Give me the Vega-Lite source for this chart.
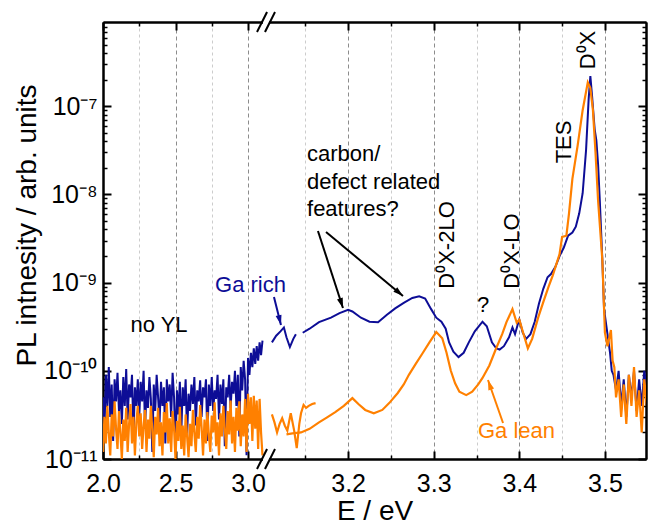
{
"$schema":"https://vega.github.io/schema/vega-lite/v6.json",
"width":543,"height":437,"autosize":"none",
"padding":{"left":103,"top":22,"right":5,"bottom":65},
"background":"white",
"config":{"font":"Liberation Sans","view":{"stroke":null},
 "axis":{"domainColor":"black","domainWidth":2,"tickColor":"black","labelColor":"black","titleColor":"black","labelFont":"Liberation Sans","titleFont":"Liberation Sans","labelFontSize":25,"titleFontSize":28,"titleFontWeight":"normal","labelFlush":false,"labelOverlap":false,"grid":false}},
"datasets":{
"rich":[
{"E":2.00,"I":5e-11,"seg":1},{"E":2.01,"I":2.2e-11,"seg":1},{"E":2.02,"I":9e-11,"seg":1},{"E":2.03,"I":4e-11,"seg":1},{"E":2.04,"I":1.1e-10,"seg":1},{"E":2.05,"I":3e-11,"seg":1},{"E":2.06,"I":7e-11,"seg":1},{"E":2.07,"I":1.6e-11,"seg":1},{"E":2.08,"I":8e-11,"seg":1},{"E":2.09,"I":4.5e-11,"seg":1},
{"E":2.10,"I":9.5e-11,"seg":1},{"E":2.11,"I":3.5e-11,"seg":1},{"E":2.12,"I":6e-11,"seg":1},{"E":2.13,"I":2.5e-11,"seg":1},{"E":2.14,"I":8.5e-11,"seg":1},{"E":2.15,"I":4e-11,"seg":1},{"E":2.16,"I":1.05e-10,"seg":1},{"E":2.17,"I":2.8e-11,"seg":1},{"E":2.18,"I":7e-11,"seg":1},{"E":2.19,"I":5e-11,"seg":1},
{"E":2.20,"I":9e-11,"seg":1},{"E":2.21,"I":1.8e-11,"seg":1},{"E":2.22,"I":6.5e-11,"seg":1},{"E":2.23,"I":4e-11,"seg":1},{"E":2.24,"I":8e-11,"seg":1},{"E":2.25,"I":3e-11,"seg":1},{"E":2.26,"I":7.5e-11,"seg":1},{"E":2.27,"I":4.5e-11,"seg":1},{"E":2.28,"I":1e-10,"seg":1},{"E":2.29,"I":2.2e-11,"seg":1},
{"E":2.30,"I":6e-11,"seg":1},{"E":2.31,"I":3.8e-11,"seg":1},{"E":2.32,"I":8.5e-11,"seg":1},{"E":2.33,"I":4.8e-11,"seg":1},{"E":2.34,"I":1.2e-11,"seg":1},{"E":2.35,"I":7e-11,"seg":1},{"E":2.36,"I":3.5e-11,"seg":1},{"E":2.37,"I":9e-11,"seg":1},{"E":2.38,"I":5e-11,"seg":1},{"E":2.39,"I":2.6e-11,"seg":1},
{"E":2.40,"I":7.5e-11,"seg":1},{"E":2.41,"I":4e-11,"seg":1},{"E":2.42,"I":6.5e-11,"seg":1},{"E":2.43,"I":1.5e-11,"seg":1},{"E":2.44,"I":8e-11,"seg":1},{"E":2.45,"I":4.5e-11,"seg":1},{"E":2.46,"I":7e-11,"seg":1},{"E":2.47,"I":3e-11,"seg":1},{"E":2.48,"I":9.5e-11,"seg":1},{"E":2.49,"I":5e-11,"seg":1},
{"E":2.50,"I":1.3e-11,"seg":1},{"E":2.51,"I":6e-11,"seg":1},{"E":2.52,"I":3.2e-11,"seg":1},{"E":2.53,"I":7.5e-11,"seg":1},{"E":2.54,"I":2e-11,"seg":1},{"E":2.55,"I":6.5e-11,"seg":1},{"E":2.56,"I":4e-11,"seg":1},{"E":2.57,"I":8e-11,"seg":1},{"E":2.58,"I":1.8e-11,"seg":1},{"E":2.59,"I":5.5e-11,"seg":1},
{"E":2.60,"I":3.5e-11,"seg":1},{"E":2.61,"I":7e-11,"seg":1},{"E":2.62,"I":4.2e-11,"seg":1},{"E":2.63,"I":8.5e-11,"seg":1},{"E":2.64,"I":2.4e-11,"seg":1},{"E":2.65,"I":6e-11,"seg":1},{"E":2.66,"I":4.5e-11,"seg":1},{"E":2.67,"I":7.8e-11,"seg":1},{"E":2.68,"I":3e-11,"seg":1},{"E":2.69,"I":6.5e-11,"seg":1},
{"E":2.70,"I":5e-11,"seg":1},{"E":2.71,"I":8e-11,"seg":1},{"E":2.72,"I":1.6e-11,"seg":1},{"E":2.73,"I":7e-11,"seg":1},{"E":2.74,"I":4e-11,"seg":1},{"E":2.75,"I":8.5e-11,"seg":1},{"E":2.76,"I":3.5e-11,"seg":1},{"E":2.77,"I":6e-11,"seg":1},{"E":2.78,"I":4.8e-11,"seg":1},{"E":2.79,"I":9e-11,"seg":1},
{"E":2.80,"I":2.8e-11,"seg":1},{"E":2.81,"I":7e-11,"seg":1},{"E":2.82,"I":4.2e-11,"seg":1},{"E":2.83,"I":8e-11,"seg":1},{"E":2.84,"I":1.4e-11,"seg":1},{"E":2.85,"I":6.5e-11,"seg":1},{"E":2.86,"I":5e-11,"seg":1},{"E":2.87,"I":9e-11,"seg":1},{"E":2.88,"I":3.8e-11,"seg":1},{"E":2.89,"I":7.5e-11,"seg":1},
{"E":2.90,"I":5.5e-11,"seg":1},{"E":2.91,"I":1e-10,"seg":1},{"E":2.92,"I":4e-11,"seg":1},{"E":2.93,"I":9e-11,"seg":1},{"E":2.94,"I":1.8e-11,"seg":1},{"E":2.95,"I":1.1e-10,"seg":1},{"E":2.96,"I":6e-11,"seg":1},{"E":2.97,"I":1.3e-10,"seg":1},{"E":2.98,"I":8e-11,"seg":1},{"E":2.99,"I":1.1e-11,"seg":1},
{"E":3.00,"I":1.4e-10,"seg":1},{"E":3.01,"I":9e-11,"seg":1},{"E":3.02,"I":1.6e-10,"seg":1},{"E":3.03,"I":1.1e-10,"seg":1},{"E":3.04,"I":1.8e-10,"seg":1},{"E":3.05,"I":1.2e-10,"seg":1},{"E":3.06,"I":1.9e-10,"seg":1},{"E":3.07,"I":1.3e-10,"seg":1},{"E":3.08,"I":2.1e-10,"seg":1},{"E":3.09,"I":1.5e-10,"seg":1},{"E":3.10,"I":2.2e-10,"seg":1},
{"E":3.111,"I":2.1e-10,"seg":2},{"E":3.116,"I":2.5e-10,"seg":2},{"E":3.121,"I":2.8e-10,"seg":2},{"E":3.125,"I":3.1e-10,"seg":2},{"E":3.128,"I":2.4e-10,"seg":2},{"E":3.132,"I":1.86e-10,"seg":2},{"E":3.136,"I":2.3e-10,"seg":2},{"E":3.139,"I":2.6e-10,"seg":2},
{"E":3.147,"I":2.7e-10,"seg":3},{"E":3.155,"I":3.0e-10,"seg":3},{"E":3.166,"I":3.56e-10,"seg":3},{"E":3.18,"I":4.0e-10,"seg":3},{"E":3.19,"I":4.5e-10,"seg":3},{"E":3.2,"I":4.9e-10,"seg":3},{"E":3.205,"I":4.7e-10,"seg":3},{"E":3.215,"I":4.0e-10,"seg":3},{"E":3.225,"I":3.6e-10,"seg":3},{"E":3.235,"I":3.55e-10,"seg":3},
{"E":3.245,"I":4.3e-10,"seg":3},{"E":3.255,"I":5.1e-10,"seg":3},{"E":3.265,"I":5.9e-10,"seg":3},{"E":3.275,"I":6.7e-10,"seg":3},{"E":3.283,"I":7.0e-10,"seg":3},{"E":3.29,"I":6.6e-10,"seg":3},{"E":3.297,"I":5.0e-10,"seg":3},{"E":3.303,"I":4.0e-10,"seg":3},{"E":3.309,"I":3.6e-10,"seg":3},{"E":3.314,"I":3.0e-10,"seg":3},
{"E":3.318,"I":2.1e-10,"seg":3},{"E":3.323,"I":1.65e-10,"seg":3},{"E":3.329,"I":1.43e-10,"seg":3},{"E":3.335,"I":1.6e-10,"seg":3},{"E":3.341,"I":2.1e-10,"seg":3},{"E":3.348,"I":2.8e-10,"seg":3},{"E":3.357,"I":3.6e-10,"seg":3},{"E":3.362,"I":3.2e-10,"seg":3},{"E":3.368,"I":2.1e-10,"seg":3},{"E":3.373,"I":1.8e-10,"seg":3},
{"E":3.377,"I":1.74e-10,"seg":3},{"E":3.382,"I":1.9e-10,"seg":3},{"E":3.388,"I":2.4e-10,"seg":3},{"E":3.392,"I":3.1e-10,"seg":3},{"E":3.395,"I":2.6e-10,"seg":3},{"E":3.398,"I":3.3e-10,"seg":3},{"E":3.4,"I":3.8e-10,"seg":3},{"E":3.404,"I":2.7e-10,"seg":3},{"E":3.408,"I":2.3e-10,"seg":3},{"E":3.413,"I":2.6e-10,"seg":3},
{"E":3.418,"I":3.6e-10,"seg":3},{"E":3.423,"I":5.8e-10,"seg":3},{"E":3.428,"I":8.5e-10,"seg":3},{"E":3.433,"I":1.15e-9,"seg":3},{"E":3.437,"I":1.25e-9,"seg":3},{"E":3.442,"I":1.5e-9,"seg":3},{"E":3.447,"I":2.0e-9,"seg":3},{"E":3.452,"I":2.5e-9,"seg":3},{"E":3.457,"I":3.4e-9,"seg":3},{"E":3.462,"I":3.7e-9,"seg":3},
{"E":3.466,"I":4.3e-9,"seg":3},{"E":3.47,"I":6.1e-9,"seg":3},{"E":3.474,"I":1.03e-8,"seg":3},{"E":3.478,"I":3.2e-8,"seg":3},{"E":3.481,"I":1.2e-7,"seg":3},{"E":3.483,"I":2.2e-7,"seg":3},{"E":3.485,"I":1.3e-7,"seg":3},{"E":3.488,"I":5.5e-8,"seg":3},{"E":3.49,"I":4.1e-8,"seg":3},{"E":3.492,"I":2.2e-8,"seg":3},
{"E":3.494,"I":8.6e-9,"seg":3},{"E":3.497,"I":1.8e-9,"seg":3},{"E":3.499,"I":5e-10,"seg":3},{"E":3.503,"I":2.6e-10,"seg":3},{"E":3.506,"I":1.6e-10,"seg":3},{"E":3.508,"I":1.0e-10,"seg":3},
{"E":3.510,"I":9e-11,"seg":3},{"E":3.513,"I":6e-11,"seg":3},{"E":3.516,"I":1e-10,"seg":3},{"E":3.519,"I":4e-11,"seg":3},{"E":3.522,"I":8e-11,"seg":3},{"E":3.525,"I":3e-11,"seg":3},{"E":3.528,"I":9e-11,"seg":3},{"E":3.531,"I":5e-11,"seg":3},{"E":3.534,"I":1e-10,"seg":3},{"E":3.537,"I":3.5e-11,"seg":3},{"E":3.540,"I":8e-11,"seg":3},{"E":3.543,"I":4e-11,"seg":3},{"E":3.546,"I":1e-10,"seg":3},{"E":3.549,"I":6e-11,"seg":3},{"E":3.552,"I":9e-11,"seg":3}
],
"lean":[
{"E":2.00,"I":1.2e-11,"seg":1},{"E":2.01,"I":3e-11,"seg":1},{"E":2.02,"I":1.5e-11,"seg":1},{"E":2.03,"I":4e-11,"seg":1},{"E":2.04,"I":2e-11,"seg":1},{"E":2.05,"I":1.1e-11,"seg":1},{"E":2.06,"I":3.2e-11,"seg":1},{"E":2.07,"I":1.8e-11,"seg":1},{"E":2.08,"I":4.5e-11,"seg":1},{"E":2.09,"I":2.2e-11,"seg":1},
{"E":2.10,"I":1.3e-11,"seg":1},{"E":2.11,"I":3.5e-11,"seg":1},{"E":2.12,"I":2e-11,"seg":1},{"E":2.13,"I":1e-11,"seg":1},{"E":2.14,"I":2.8e-11,"seg":1},{"E":2.15,"I":1.6e-11,"seg":1},{"E":2.16,"I":3.8e-11,"seg":1},{"E":2.17,"I":1.2e-11,"seg":1},{"E":2.18,"I":2.5e-11,"seg":1},{"E":2.19,"I":4.2e-11,"seg":1},
{"E":2.20,"I":1.5e-11,"seg":1},{"E":2.21,"I":3e-11,"seg":1},{"E":2.22,"I":1.1e-11,"seg":1},{"E":2.23,"I":2.6e-11,"seg":1},{"E":2.24,"I":4e-11,"seg":1},{"E":2.25,"I":1.8e-11,"seg":1},{"E":2.26,"I":3.3e-11,"seg":1},{"E":2.27,"I":1.3e-11,"seg":1},{"E":2.28,"I":2.4e-11,"seg":1},{"E":2.29,"I":3.6e-11,"seg":1},
{"E":2.30,"I":1.2e-11,"seg":1},{"E":2.31,"I":2.8e-11,"seg":1},{"E":2.32,"I":1.7e-11,"seg":1},{"E":2.33,"I":4e-11,"seg":1},{"E":2.34,"I":2.1e-11,"seg":1},{"E":2.35,"I":1.05e-11,"seg":1},{"E":2.36,"I":3e-11,"seg":1},{"E":2.37,"I":1.9e-11,"seg":1},{"E":2.38,"I":3.8e-11,"seg":1},{"E":2.39,"I":1.4e-11,"seg":1},
{"E":2.40,"I":2.6e-11,"seg":1},{"E":2.41,"I":1.1e-11,"seg":1},{"E":2.42,"I":3.4e-11,"seg":1},{"E":2.43,"I":2e-11,"seg":1},{"E":2.44,"I":4.3e-11,"seg":1},{"E":2.45,"I":1.5e-11,"seg":1},{"E":2.46,"I":2.9e-11,"seg":1},{"E":2.47,"I":1.2e-11,"seg":1},{"E":2.48,"I":3.5e-11,"seg":1},{"E":2.49,"I":2.2e-11,"seg":1},
{"E":2.50,"I":1e-11,"seg":1},{"E":2.51,"I":2.7e-11,"seg":1},{"E":2.52,"I":1.6e-11,"seg":1},{"E":2.53,"I":3.9e-11,"seg":1},{"E":2.54,"I":1.3e-11,"seg":1},{"E":2.55,"I":2.4e-11,"seg":1},{"E":2.56,"I":1.1e-11,"seg":1},{"E":2.57,"I":3.2e-11,"seg":1},{"E":2.58,"I":1.8e-11,"seg":1},{"E":2.59,"I":1.05e-11,"seg":1},
{"E":2.60,"I":2.5e-11,"seg":1},{"E":2.61,"I":1.4e-11,"seg":1},{"E":2.62,"I":3.6e-11,"seg":1},{"E":2.63,"I":2e-11,"seg":1},{"E":2.64,"I":1.2e-11,"seg":1},{"E":2.65,"I":3e-11,"seg":1},{"E":2.66,"I":1.7e-11,"seg":1},{"E":2.67,"I":4.1e-11,"seg":1},{"E":2.68,"I":2.3e-11,"seg":1},{"E":2.69,"I":1.1e-11,"seg":1},
{"E":2.70,"I":2.8e-11,"seg":1},{"E":2.71,"I":1.5e-11,"seg":1},{"E":2.72,"I":3.4e-11,"seg":1},{"E":2.73,"I":1.9e-11,"seg":1},{"E":2.74,"I":1.2e-11,"seg":1},{"E":2.75,"I":3.1e-11,"seg":1},{"E":2.76,"I":2e-11,"seg":1},{"E":2.77,"I":4.4e-11,"seg":1},{"E":2.78,"I":1.4e-11,"seg":1},{"E":2.79,"I":2.6e-11,"seg":1},
{"E":2.80,"I":1.1e-11,"seg":1},{"E":2.81,"I":3.3e-11,"seg":1},{"E":2.82,"I":1.8e-11,"seg":1},{"E":2.83,"I":4e-11,"seg":1},{"E":2.84,"I":2.2e-11,"seg":1},{"E":2.85,"I":1.3e-11,"seg":1},{"E":2.86,"I":3.5e-11,"seg":1},{"E":2.87,"I":1.9e-11,"seg":1},{"E":2.88,"I":4.6e-11,"seg":1},{"E":2.89,"I":1.5e-11,"seg":1},
{"E":2.90,"I":3e-11,"seg":1},{"E":2.91,"I":1.2e-11,"seg":1},{"E":2.92,"I":3.8e-11,"seg":1},{"E":2.93,"I":2.1e-11,"seg":1},{"E":2.94,"I":4.5e-11,"seg":1},{"E":2.95,"I":1.4e-11,"seg":1},{"E":2.96,"I":3.2e-11,"seg":1},{"E":2.97,"I":1.8e-11,"seg":1},{"E":2.98,"I":4.8e-11,"seg":1},{"E":2.99,"I":1.2e-11,"seg":1},
{"E":3.00,"I":5.5e-11,"seg":1},{"E":3.01,"I":2.5e-11,"seg":1},{"E":3.02,"I":5e-11,"seg":1},{"E":3.03,"I":1.6e-11,"seg":1},{"E":3.04,"I":5.2e-11,"seg":1},{"E":3.05,"I":2.2e-11,"seg":1},{"E":3.06,"I":4.6e-11,"seg":1},{"E":3.07,"I":1.3e-11,"seg":1},{"E":3.08,"I":4.8e-11,"seg":1},{"E":3.09,"I":2e-11,"seg":1},{"E":3.10,"I":1.1e-11,"seg":1},
{"E":3.111,"I":3.2e-11,"seg":2},{"E":3.114,"I":2.6e-11,"seg":2},{"E":3.117,"I":2.0e-11,"seg":2},{"E":3.12,"I":2.5e-11,"seg":2},{"E":3.123,"I":2.9e-11,"seg":2},{"E":3.126,"I":2.4e-11,"seg":2},{"E":3.129,"I":2.1e-11,"seg":2},{"E":3.133,"I":3.3e-11,"seg":2},{"E":3.137,"I":2.1e-11,"seg":2},{"E":3.14,"I":1.33e-11,"seg":2},
{"E":3.143,"I":2.5e-11,"seg":2},{"E":3.145,"I":3.3e-11,"seg":2},{"E":3.148,"I":4.1e-11,"seg":2},{"E":3.151,"I":3.8e-11,"seg":2},{"E":3.154,"I":4.0e-11,"seg":2},{"E":3.158,"I":4.2e-11,"seg":2},{"E":3.162,"I":4.3e-11,"seg":2},
{"E":3.128,"I":1.9e-11,"seg":3},{"E":3.135,"I":1.95e-11,"seg":3},{"E":3.145,"I":2.0e-11,"seg":3},{"E":3.155,"I":2.2e-11,"seg":3},{"E":3.166,"I":2.6e-11,"seg":3},{"E":3.175,"I":2.95e-11,"seg":3},{"E":3.185,"I":3.4e-11,"seg":3},{"E":3.195,"I":4.0e-11,"seg":3},{"E":3.205,"I":4.9e-11,"seg":3},{"E":3.212,"I":4.2e-11,"seg":3},
{"E":3.22,"I":3.6e-11,"seg":3},{"E":3.23,"I":3.3e-11,"seg":3},{"E":3.24,"I":3.6e-11,"seg":3},{"E":3.248,"I":4.3e-11,"seg":3},{"E":3.258,"I":5.6e-11,"seg":3},{"E":3.265,"I":7.0e-11,"seg":3},{"E":3.271,"I":9.0e-11,"seg":3},{"E":3.279,"I":1.2e-10,"seg":3},{"E":3.287,"I":1.58e-10,"seg":3},{"E":3.295,"I":2.1e-10,"seg":3},
{"E":3.303,"I":2.75e-10,"seg":3},{"E":3.31,"I":2.34e-10,"seg":3},{"E":3.315,"I":1.6e-10,"seg":3},{"E":3.32,"I":1.0e-10,"seg":3},{"E":3.325,"I":7.2e-11,"seg":3},{"E":3.33,"I":5.8e-11,"seg":3},{"E":3.338,"I":5.3e-11,"seg":3},{"E":3.345,"I":5.8e-11,"seg":3},{"E":3.352,"I":7.0e-11,"seg":3},{"E":3.357,"I":8.3e-11,"seg":3},
{"E":3.365,"I":1.15e-10,"seg":3},{"E":3.373,"I":1.8e-10,"seg":3},{"E":3.38,"I":2.6e-10,"seg":3},{"E":3.385,"I":3.56e-10,"seg":3},{"E":3.392,"I":5.0e-10,"seg":3},{"E":3.397,"I":3.5e-10,"seg":3},{"E":3.4,"I":3.8e-10,"seg":3},{"E":3.405,"I":2.6e-10,"seg":3},{"E":3.41,"I":1.8e-10,"seg":3},{"E":3.415,"I":2.3e-10,"seg":3},
{"E":3.422,"I":4.0e-10,"seg":3},{"E":3.428,"I":6.0e-10,"seg":3},{"E":3.434,"I":8.9e-10,"seg":3},{"E":3.439,"I":1.2e-9,"seg":3},{"E":3.447,"I":2.1e-9,"seg":3},{"E":3.45,"I":3.3e-9,"seg":3},{"E":3.455,"I":3.4e-9,"seg":3},{"E":3.458,"I":6e-9,"seg":3},{"E":3.462,"I":1.5e-8,"seg":3},{"E":3.468,"I":3.5e-8,"seg":3},
{"E":3.474,"I":9e-8,"seg":3},{"E":3.48,"I":1.86e-7,"seg":3},{"E":3.483,"I":1.6e-7,"seg":3},{"E":3.486,"I":9e-8,"seg":3},{"E":3.489,"I":3e-8,"seg":3},{"E":3.492,"I":8.6e-9,"seg":3},{"E":3.497,"I":1.8e-9,"seg":3},{"E":3.5,"I":2.7e-10,"seg":3},{"E":3.503,"I":1.9e-10,"seg":3},{"E":3.507,"I":2.9e-10,"seg":3},
{"E":3.509,"I":1.3e-10,"seg":3},{"E":3.511,"I":1.1e-10,"seg":3},{"E":3.513,"I":5e-11,"seg":3},{"E":3.516,"I":8e-11,"seg":3},{"E":3.519,"I":3e-11,"seg":3},{"E":3.522,"I":7e-11,"seg":3},{"E":3.525,"I":2.5e-11,"seg":3},{"E":3.528,"I":9e-11,"seg":3},{"E":3.531,"I":4e-11,"seg":3},{"E":3.534,"I":1.1e-10,"seg":3},{"E":3.537,"I":3e-11,"seg":3},{"E":3.540,"I":6e-11,"seg":3},{"E":3.543,"I":2e-11,"seg":3},{"E":3.546,"I":8e-11,"seg":3},{"E":3.549,"I":4e-11,"seg":3}
],
"notes":[
{"E":2.3862,"I":2.75e-10,"label":"no YL","who":"note"},
{"E":3.0172,"I":7.8e-10,"label":"Ga rich","who":"rich"},
{"E":3.3967,"I":1.73e-11,"label":"Ga lean","who":"lean"},
{"E":3.3576,"I":4.64e-10,"label":"?","who":"note"}
],
"multi":[{"E":3.152,"I":2.39e-8,"label":"carbon/\ndefect related\nfeatures?"}],
"vert":[
{"E":3.3155,"I":2.67e-9,"label":"D⁰X-2LO"},
{"E":3.3915,"I":2.28e-9,"label":"D⁰X-LO"},
{"E":3.4522,"I":3.93e-8,"label":"TES"},
{"E":3.4803,"I":4.33e-7,"label":"D⁰X"}
],
"arrows":[
{"id":"a","who":"note","E1":3.1648,"I1":3.85e-9,"E2":3.194,"I2":5.15e-10},
{"id":"b","who":"note","E1":3.1742,"I1":3.75e-9,"E2":3.2641,"I2":7.05e-10},
{"id":"c","who":"rich","E1":3.1134,"I1":6.87e-10,"E2":3.1216,"I2":3.3e-10},
{"id":"d","who":"lean","E1":3.381,"I1":2.56e-11,"E2":3.3634,"I2":7.87e-11}
],
"gap":[{"E1":3.1006,"E2":3.1076,"I":1e-11},{"E1":3.1006,"E2":3.1076,"I":9e-7}],
"brk":[
{"E1":3.0621,"I1":7.7e-12,"E2":3.1053,"I2":1.299e-11},
{"E1":3.1029,"I1":7.7e-12,"E2":3.1146,"I2":1.299e-11},
{"E1":3.0621,"I1":6.93e-7,"E2":3.1053,"I2":1.168e-6},
{"E1":3.1029,"I1":6.93e-7,"E2":3.1146,"I2":1.168e-6}
]
},
"layer":[
{"data":{"name":"rich"},"mark":{"type":"line","color":"#0d0d96","strokeWidth":2,"clip":true},
 "encoding":{
  "x":{"field":"E","type":"quantitative","scale":{"domain":[2,3.1,3.548],"range":[0,159.5,543],"nice":false,"zero":false},
   "axis":{"orient":"bottom","values":[2,2.5,3,3.2,3.3,3.4,3.5],"format":".1f","title":"E / eV","titleY":60,"titleBaseline":"alphabetic","grid":true,"gridColor":"#8c8c8c","gridDash":[4,3],"gridWidth":1,"tickSize":-8,"tickWidth":2,"labelPadding":20}},
  "y":{"field":"I","type":"quantitative","scale":{"type":"log","domain":[1e-11,9e-7],"nice":false},
   "axis":{"orient":"left","values":[1e-11,1e-10,1e-9,1e-8,1e-7],"labelExpr":"datum.value < 3e-11 ? '10⁻¹¹' : datum.value < 3e-10 ? '10⁻¹⁰' : datum.value < 3e-9 ? '10⁻⁹' : datum.value < 3e-8 ? '10⁻⁸' : '10⁻⁷'","title":"PL intnesity / arb. units","titleX":-68,"titleY":203,"titleBaseline":"alphabetic","tickSize":-8,"tickWidth":2,"labelPadding":14}},
  "detail":{"field":"seg","type":"nominal"}}},
{"data":{"name":"lean"},"mark":{"type":"line","color":"#ff8000","strokeWidth":2.2,"clip":true},
 "encoding":{
  "x":{"field":"E","type":"quantitative","axis":{"orient":"bottom","values":[2.25,2.75,3.15,3.25,3.35,3.45],"labels":false,"title":null,"grid":true,"gridColor":"#cccccc","gridDash":[3,3],"gridWidth":1,"tickSize":-4,"tickWidth":1.5}},
  "y":{"field":"I","type":"quantitative","axis":{"orient":"left","values":[2e-11,3e-11,4e-11,5e-11,6e-11,7e-11,8e-11,9e-11,2e-10,3e-10,4e-10,5e-10,6e-10,7e-10,8e-10,9e-10,2e-9,3e-9,4e-9,5e-9,6e-9,7e-9,8e-9,9e-9,2e-8,3e-8,4e-8,5e-8,6e-8,7e-8,8e-8,9e-8,2e-7,3e-7,4e-7,5e-7,6e-7,7e-7,8e-7],"labels":false,"title":null,"tickSize":-4,"tickWidth":1.5}},
  "detail":{"field":"seg","type":"nominal"}}},
{"data":{"name":"notes"},"mark":{"type":"text","fontSize":22,"align":"center","baseline":"alphabetic"},
 "encoding":{
  "x":{"field":"E","type":"quantitative","axis":{"orient":"top","values":[2,2.5,3,3.2,3.3,3.4,3.5],"labels":false,"title":null,"tickSize":-8,"tickWidth":2}},
  "y":{"field":"I","type":"quantitative","axis":{"orient":"right","values":[1e-11,1e-10,1e-9,1e-8,1e-7],"labels":false,"title":null,"tickSize":-8,"tickWidth":2}},
  "text":{"field":"label"},
  "color":{"field":"who","type":"nominal","scale":{"domain":["note","rich","lean"],"range":["#000000","#0d0d96","#ff8000"]},"legend":null}}},
{"data":{"name":"arrows"},"mark":{"type":"rule","strokeWidth":2},
 "encoding":{
  "x":{"field":"E1","type":"quantitative","axis":{"orient":"top","values":[2.25,2.75,3.15,3.25,3.35,3.45],"labels":false,"title":null,"tickSize":-4,"tickWidth":1.5}},
  "y":{"field":"I1","type":"quantitative","axis":{"orient":"right","values":[2e-11,3e-11,4e-11,5e-11,6e-11,7e-11,8e-11,9e-11,2e-10,3e-10,4e-10,5e-10,6e-10,7e-10,8e-10,9e-10,2e-9,3e-9,4e-9,5e-9,6e-9,7e-9,8e-9,9e-9,2e-8,3e-8,4e-8,5e-8,6e-8,7e-8,8e-8,9e-8,2e-7,3e-7,4e-7,5e-7,6e-7,7e-7,8e-7],"labels":false,"title":null,"tickSize":-4,"tickWidth":1.5}},
  "x2":{"field":"E2"},"y2":{"field":"I2"},
  "color":{"field":"who","type":"nominal","legend":null}}},
{"data":{"name":"multi"},"mark":{"type":"text","fontSize":22,"align":"left","baseline":"alphabetic","lineBreak":"\n","lineHeight":27.5,"color":"black"},
 "encoding":{"x":{"field":"E","type":"quantitative","axis":null},"y":{"field":"I","type":"quantitative","axis":null},"text":{"field":"label"}}},
{"data":{"name":"vert"},"mark":{"type":"text","fontSize":22,"align":"center","baseline":"middle","angle":270,"color":"black"},
 "encoding":{"x":{"field":"E","type":"quantitative","axis":null},"y":{"field":"I","type":"quantitative","axis":null},"text":{"field":"label"}}},
{"data":{"name":"arrows"},"transform":[{"filter":"datum.id == 'a'"}],"mark":{"type":"point","shape":"M0,0L-0.3,1L0.3,1Z","filled":true,"size":400,"angle":162,"opacity":1},
 "encoding":{"x":{"field":"E2","type":"quantitative","axis":null},"y":{"field":"I2","type":"quantitative","axis":null},"color":{"field":"who","type":"nominal","legend":null}}},
{"data":{"name":"arrows"},"transform":[{"filter":"datum.id == 'b'"}],"mark":{"type":"point","shape":"M0,0L-0.3,1L0.3,1Z","filled":true,"size":400,"angle":130,"opacity":1},
 "encoding":{"x":{"field":"E2","type":"quantitative","axis":null},"y":{"field":"I2","type":"quantitative","axis":null},"color":{"field":"who","type":"nominal","legend":null}}},
{"data":{"name":"arrows"},"transform":[{"filter":"datum.id == 'c'"}],"mark":{"type":"point","shape":"M0,0L-0.3,1L0.3,1Z","filled":true,"size":400,"angle":166,"opacity":1},
 "encoding":{"x":{"field":"E2","type":"quantitative","axis":null},"y":{"field":"I2","type":"quantitative","axis":null},"color":{"field":"who","type":"nominal","legend":null}}},
{"data":{"name":"arrows"},"transform":[{"filter":"datum.id == 'd'"}],"mark":{"type":"point","shape":"M0,0L-0.3,1L0.3,1Z","filled":true,"size":400,"angle":341,"opacity":1},
 "encoding":{"x":{"field":"E2","type":"quantitative","axis":null},"y":{"field":"I2","type":"quantitative","axis":null},"color":{"field":"who","type":"nominal","legend":null}}},
{"data":{"name":"gap"},"mark":{"type":"rule","color":"white","strokeWidth":5,"clip":false},
 "encoding":{"x":{"field":"E1","type":"quantitative","axis":null},"x2":{"field":"E2"},"y":{"field":"I","type":"quantitative","axis":null}}},
{"data":{"name":"brk"},"mark":{"type":"rule","color":"black","strokeWidth":2,"clip":false},
 "encoding":{"x":{"field":"E1","type":"quantitative","axis":null},"x2":{"field":"E2"},"y":{"field":"I1","type":"quantitative","axis":null},"y2":{"field":"I2"}}}
],
"resolve":{"axis":{"x":"independent","y":"independent"}}
}
